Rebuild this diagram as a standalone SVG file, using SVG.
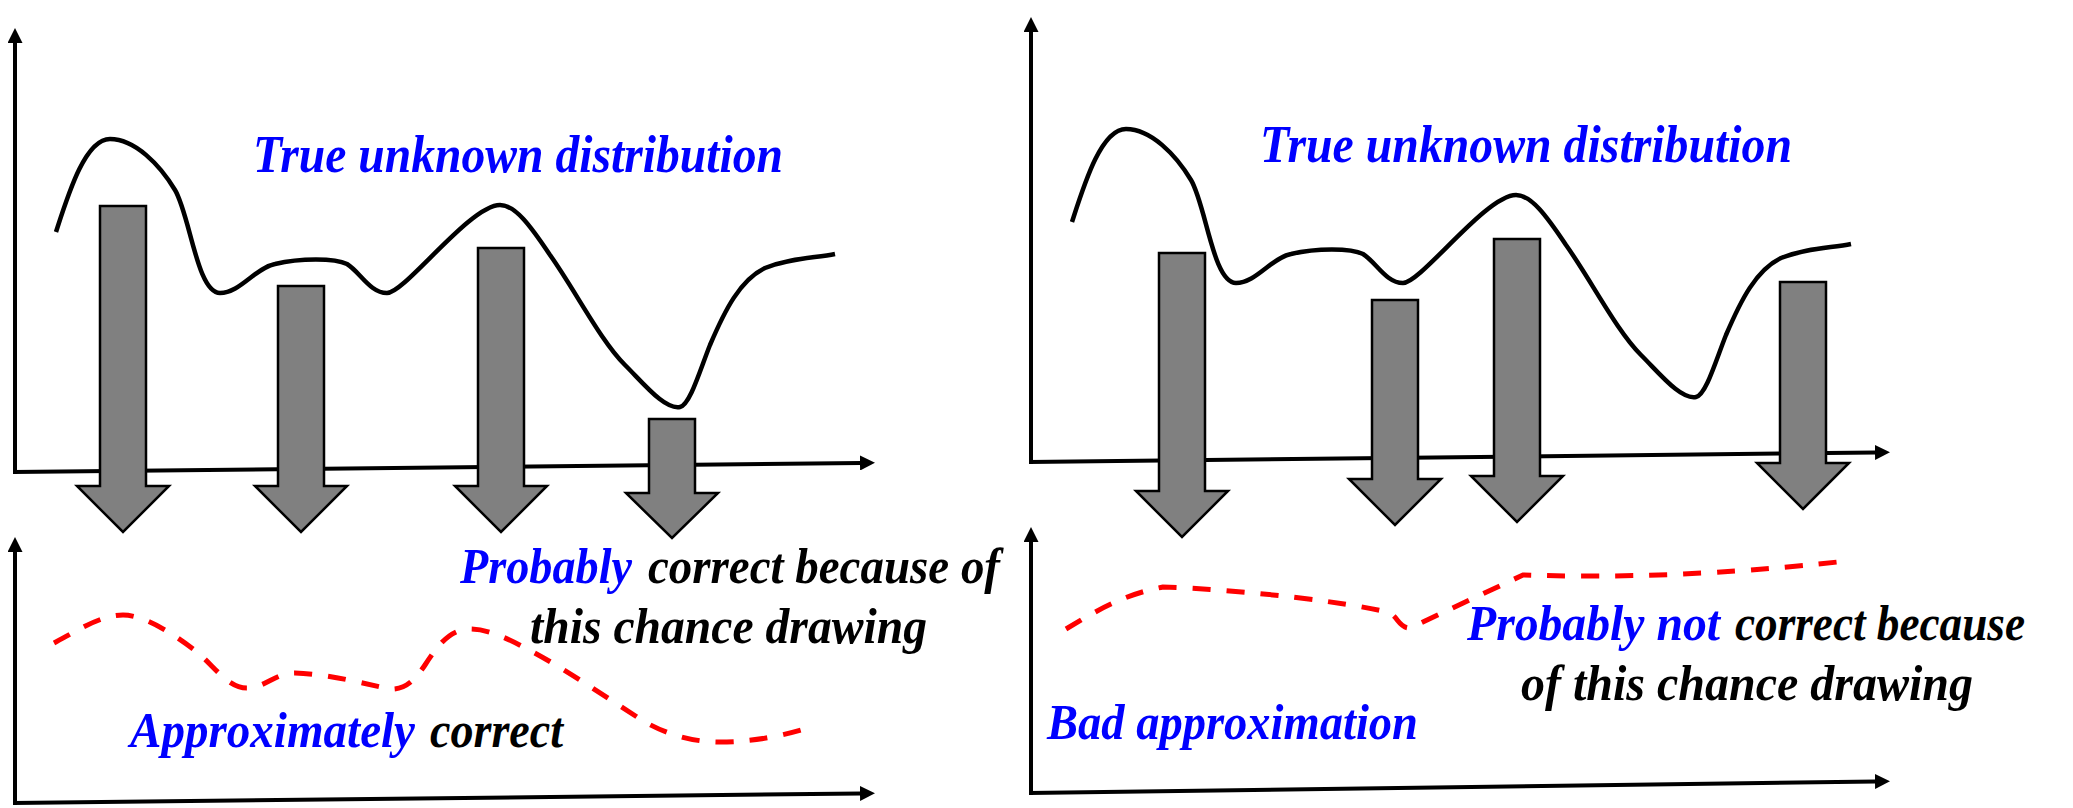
<svg xmlns="http://www.w3.org/2000/svg" width="2073" height="808" viewBox="0 0 2073 808">
<style>
.axis{stroke:#000;stroke-width:4;fill:none;marker-end:url(#ah)}
.truth{stroke:#000;stroke-width:4.5;fill:none;stroke-linejoin:round}
.approx{stroke:#ff0000;stroke-width:5;fill:none;stroke-dasharray:18 16}
.blk{fill:#808080;stroke:#000;stroke-width:2.5;stroke-linejoin:miter}
.t{font-family:"Liberation Serif","DejaVu Serif",serif;font-style:italic;font-weight:bold;font-size:50px}
.title{font-size:52px}
.blue{fill:#0000ff}
.black{fill:#000000}
</style>
<defs>
<marker id="ah" markerUnits="userSpaceOnUse" markerWidth="15" markerHeight="15" viewBox="0 0 15 15" refX="1" refY="7.5" orient="auto">
<path d="M0,0 L15,7.5 L0,15 z" fill="#000"/>
</marker>
<path id="truecurve" d="M56,232 C68,195 85,139 110,139 C135,139 160,165 175,190 C190,215 197,293 220,293 C240,293 255,268 275,264 C300,258 335,258 347,264 C360,272 370,293 387,293 C405,293 470,205 500,205 C515,205 530,225 550,255 C575,290 600,340 625,365 C645,385 665,410 680,407 C690,405 700,370 710,345 C725,310 740,280 765,268 C790,258 815,258 835,254"/>
</defs>

<g id="left-top-chart">
<line class="axis" x1="15" y1="474" x2="15" y2="42"/>
<line class="axis" x1="13" y1="472" x2="861" y2="463"/>
<use href="#truecurve" class="truth"/>
</g>
<g id="left-bottom-chart">
<line class="axis" x1="15" y1="805" x2="15" y2="551"/>
<line class="axis" x1="13" y1="803" x2="861" y2="793.5"/>
<path class="approx" d="M54,643 C75,632 100,615 123,615 C145,615 175,635 197,652 C215,667 228,688 247,688 C265,688 275,673 295,673 C330,674 365,684 390,689 C405,690 415,680 425,665 C438,645 450,629 470,629 C490,629 510,640 533,652 C570,672 610,700 645,722 C670,736 695,742 720,742 C755,742 785,735 808,728"/>
</g>

<g id="right-top-chart">
<line class="axis" x1="1031" y1="464" x2="1031" y2="31"/>
<line class="axis" x1="1029" y1="462" x2="1876" y2="452.5"/>
<use href="#truecurve" class="truth" transform="translate(1016,-10)"/>
</g>
<g id="right-bottom-chart">
<line class="axis" x1="1031" y1="795" x2="1031" y2="541"/>
<line class="axis" x1="1029" y1="793" x2="1876" y2="781.5"/>
<path class="approx" d="M1066,629 C1090,615 1120,595 1163,587 C1250,590 1350,603 1387,612 C1398,615 1398,628 1410,628 L1523,575 C1620,578 1720,575 1847,561"/>
</g>

<g id="sampling-arrows">
<g id="left-arrow-1"><polygon class="blk" points="100,206 146,206 146,486 169,486 123,532 77,486 100,486"/></g>
<g id="left-arrow-2"><polygon class="blk" points="278,286 324,286 324,486 347,486 301,532 255,486 278,486"/></g>
<g id="left-arrow-3"><polygon class="blk" points="478,248 524,248 524,486 547,486 501,532 455,486 478,486"/></g>
<g id="left-arrow-4"><polygon class="blk" points="649,419 695,419 695,493 718,493 672,538 626,493 649,493"/></g>
<g id="right-arrow-1"><polygon class="blk" points="1159,253 1205,253 1205,491 1228,491 1182,537 1136,491 1159,491"/></g>
<g id="right-arrow-2"><polygon class="blk" points="1372,300 1418,300 1418,479 1441,479 1395,525 1349,479 1372,479"/></g>
<g id="right-arrow-3"><polygon class="blk" points="1494,239 1540,239 1540,476 1563,476 1517,522 1471,476 1494,476"/></g>
<g id="right-arrow-4"><polygon class="blk" points="1780,282 1826,282 1826,463 1849,463 1803,509 1757,463 1780,463"/></g>
</g>

<g id="labels">
<g id="left-title"><text class="t title blue" x="253" y="172" textLength="530" lengthAdjust="spacingAndGlyphs">True unknown distribution</text></g>
<g id="right-title"><text class="t title blue" x="1260" y="162" textLength="532" lengthAdjust="spacingAndGlyphs">True unknown distribution</text></g>
<g id="left-probably">
<text class="t blue" x="460" y="583" textLength="172" lengthAdjust="spacingAndGlyphs">Probably</text>
<text class="t black" x="648" y="583" textLength="352" lengthAdjust="spacingAndGlyphs">correct because of</text>
<text class="t black" x="530" y="643" textLength="397" lengthAdjust="spacingAndGlyphs">this chance drawing</text>
</g>
<g id="left-approx">
<text class="t blue" x="130" y="747" textLength="285" lengthAdjust="spacingAndGlyphs">Approximately</text>
<text class="t black" x="430" y="747" textLength="133" lengthAdjust="spacingAndGlyphs">correct</text>
</g>
<g id="right-probably-not">
<text class="t blue" x="1467" y="640" textLength="253" lengthAdjust="spacingAndGlyphs">Probably not</text>
<text class="t black" x="1735" y="640" textLength="290" lengthAdjust="spacingAndGlyphs">correct because</text>
<text class="t black" x="1521" y="700" textLength="452" lengthAdjust="spacingAndGlyphs">of this chance drawing</text>
</g>
<g id="right-bad">
<text class="t blue" x="1047" y="739" textLength="371" lengthAdjust="spacingAndGlyphs">Bad approximation</text>
</g>
</g>
</svg>
